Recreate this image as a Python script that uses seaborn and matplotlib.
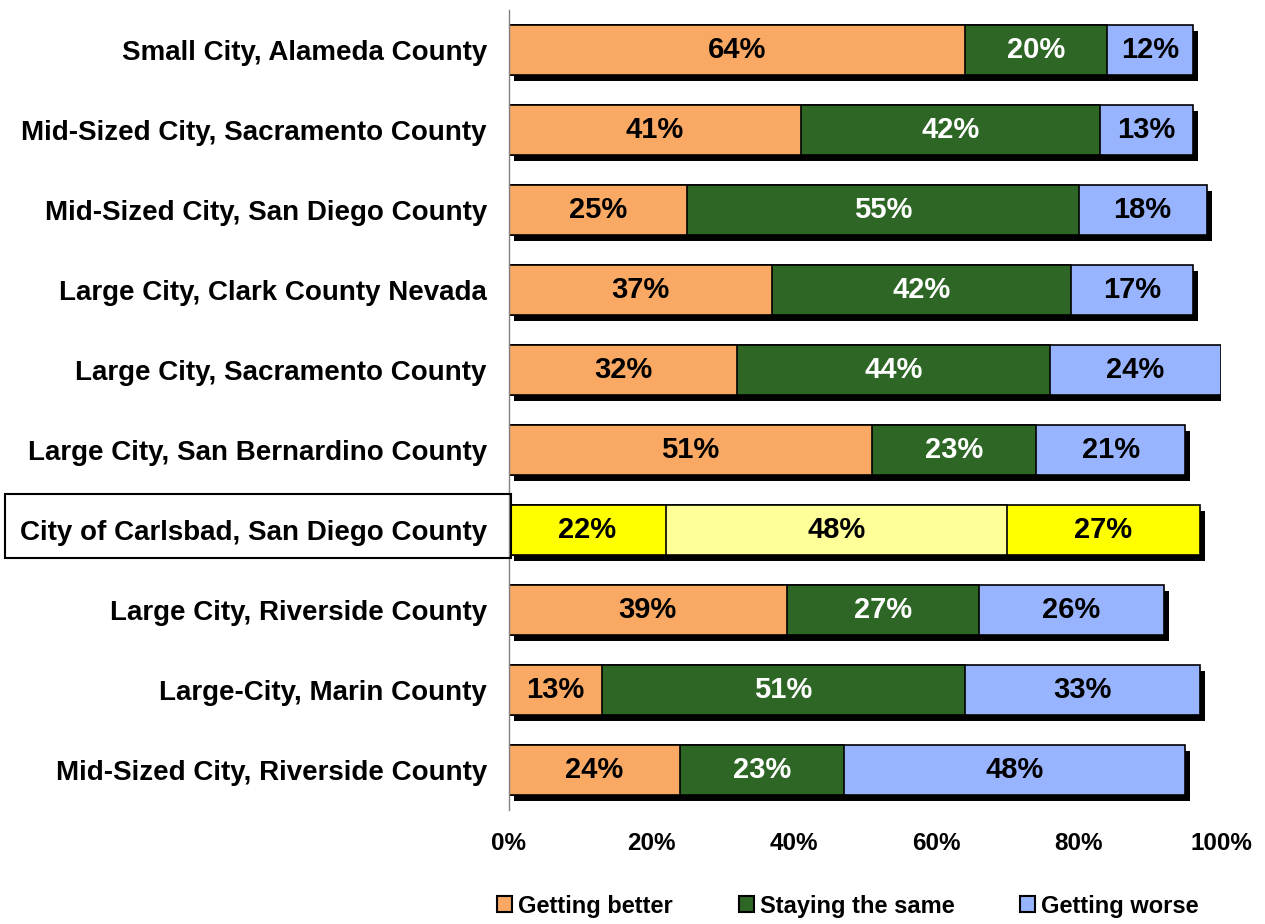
import matplotlib
matplotlib.use("Agg")
import matplotlib.pyplot as plt
import matplotlib.patheffects as pe
from matplotlib.patches import Rectangle, Patch
import seaborn as sns
import numpy as np
import pandas as pd

# Data (top to bottom)
cities = [
    "Small City, Alameda County",
    "Mid-Sized City, Sacramento County",
    "Mid-Sized City, San Diego County",
    "Large City, Clark County Nevada",
    "Large City, Sacramento County",
    "Large City, San Bernardino County",
    "City of Carlsbad, San Diego County",
    "Large City, Riverside County",
    "Large-City, Marin County",
    "Mid-Sized City, Riverside County",
]
getting_better = [64, 41, 25, 37, 32, 51, 22, 39, 13, 24]
staying_same = [20, 42, 55, 42, 44, 23, 48, 27, 51, 23]
getting_worse = [12, 13, 18, 17, 24, 21, 27, 26, 33, 48]
series_names = ["Getting better", "Staying the same", "Getting worse"]
highlight = "City of Carlsbad, San Diego County"

colors = ["#F9A964", "#2E6626", "#99B4FF"]
hl_colors = ["#FFFF00", "#FFFF99", "#FFFF00"]
text_colors = ["black", "white", "black"]

sns.set_style("white")
plt.rcParams["font.family"] = ["Liberation Sans", "DejaVu Sans"]
plt.rcParams["font.weight"] = "bold"
plt.rcParams.update({
    "text.color": "black",
    "axes.labelcolor": "black",
    "xtick.color": "black",
    "ytick.color": "black",
})

df = pd.DataFrame({
    "City": cities,
    "better": getting_better,
    "same": staying_same,
    "worse": getting_worse,
})
df["c1"] = df["better"]
df["c2"] = df["better"] + df["same"]
df["c3"] = df["c2"] + df["worse"]

fig = plt.figure(figsize=(12.65, 9.24), dpi=100)
ax = fig.add_axes([509 / 1265, 1 - 810 / 924, 712 / 1265, 800 / 924])

# draw cumulative layers, largest first
layers = [("c3", 2), ("c2", 1), ("c1", 0)]
for col, k in layers:
    n_before = len(ax.patches)
    sns.barplot(data=df, x=col, y="City", orient="h", order=cities,
                color=colors[k], width=0.62, edgecolor="black", linewidth=1.2,
                saturation=1, ax=ax)
    new = ax.patches[n_before:]
    for i, p in enumerate(new):
        p.set_facecolor(hl_colors[k] if cities[i] == highlight else colors[k])
        if col == "c3":
            p.set_path_effects([pe.SimplePatchShadow(offset=(3.6, -4.3), shadow_rgbFace="black", alpha=1.0),
                                pe.Normal()])

# segment labels
for i, city in enumerate(cities):
    starts = [0, df.loc[i, "c1"], df.loc[i, "c2"]]
    vals = [df.loc[i, "better"], df.loc[i, "same"], df.loc[i, "worse"]]
    for k in range(3):
        tc = "black" if city == highlight else text_colors[k]
        ax.text(starts[k] + vals[k] / 2, i, f"{vals[k]}%", ha="center", va="center",
                fontsize=21, fontweight="bold", color=tc)

ax.set_xlim(0, 100)
ax.set_ylim(9.5, -0.5)
ax.set_xticks(np.arange(0, 101, 20))
ax.set_xticklabels([f"{v}%" for v in range(0, 101, 20)], fontsize=17.5, fontweight="bold")
ax.set_xlabel("")
ax.set_ylabel("")
ax.tick_params(axis="x", length=0, pad=16)
ax.tick_params(axis="y", which="major", length=0, pad=16, labelsize=20)
ax.set_yticks(np.arange(-0.5, 10, 1), minor=True)
ax.tick_params(axis="y", which="minor", length=6, color="#808080", width=1)
for lbl in ax.get_yticklabels():
    lbl.set_fontweight("bold")
for s in ["top", "right", "bottom"]:
    ax.spines[s].set_visible(False)
ax.spines["left"].set_color("#808080")
ax.spines["left"].set_linewidth(1)

# highlight box around Carlsbad label
fig.patches.append(Rectangle((5 / 1265, 1 - 558 / 924), 506 / 1265, 64 / 924,
                             transform=fig.transFigure, facecolor="none",
                             edgecolor="black", linewidth=1.5, zorder=5))

handles = [Patch(facecolor=c, edgecolor="black", linewidth=1.5) for c in colors]
fig.legend(handles, series_names, loc="center", bbox_to_anchor=(848 / 1265, 1 - 906 / 924),
           ncol=3, frameon=False, handlelength=0.63, handleheight=0.63,
           handletextpad=0.25, columnspacing=2.8, borderpad=0, prop={"weight": "bold", "size": 17})

fig.savefig("out.png", dpi=100, facecolor="white")
